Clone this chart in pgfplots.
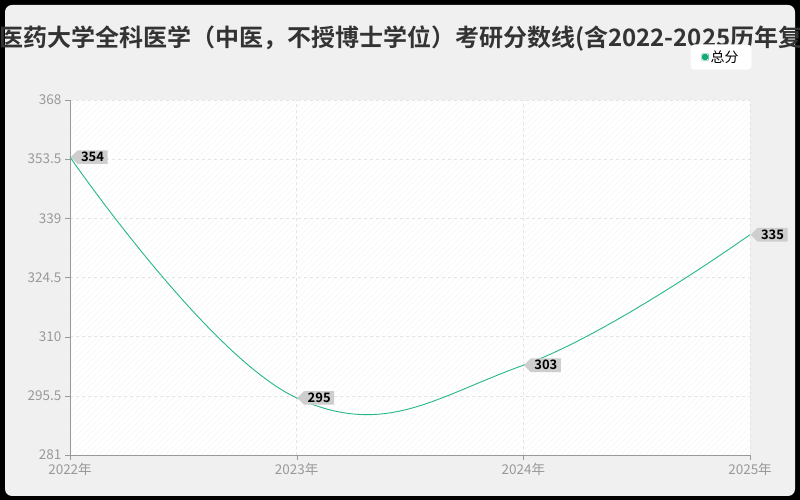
\documentclass[border=0pt]{standalone}
\usepackage{fontspec}
\setmainfont{Noto Sans CJK SC}[BoldFont={* Bold}]
\usepackage{pgfplots}
\pgfplotsset{compat=1.18}
\usetikzlibrary{shapes.symbols,patterns.meta}
\definecolor{lineg}{RGB}{38,184,132}
\definecolor{legg}{RGB}{20,170,120}
\definecolor{bgc}{RGB}{240,240,240}
\definecolor{tickc}{RGB}{153,153,153}
\definecolor{gridc}{RGB}{228,228,228}
\definecolor{titlec}{RGB}{51,51,51}
\definecolor{labelc}{RGB}{206,206,206}
\definecolor{hatchc}{RGB}{243,243,243}

\begin{document}
\begin{tikzpicture}
\useasboundingbox (0pt,0pt) rectangle (800pt,500pt);
\fill[black] (0pt,0pt) rectangle (800pt,500pt);
\fill[bgc, rounded corners=7pt] (5pt,4pt) rectangle (795pt,495pt);
\node[anchor=west, text=titlec, font=\bfseries\fontsize{24}{24}\selectfont, inner sep=0pt]
  at (-1pt,461pt) {医药大学全科医学（中医，不授博士学位）考研分数线(含2022-2025历年复试)};
\begin{axis}[
    at={(70pt,45pt)}, anchor=south west,
    scale only axis,
    width=680pt, height=355pt,
    xmin=0, xmax=3,
    ymin=281, ymax=368,
    xtick={0,1,2,3},
    xticklabels={2022年,2023年,2024年,2025年},
    ytick={281,295.5,310,324.5,339,353.5,368},
    yticklabels={281,295.5,310,324.5,339,353.5,368},
    axis x line*=bottom, axis y line*=left,
    x axis line style={-, draw=tickc},
    y axis line style={-, draw=tickc},
    tick align=outside,
    major tick length=5pt,
    tick style={draw=tickc},
    ticklabel style={text=tickc, font=\fontsize{13.5}{13.5}\selectfont},
    grid=major,
    major grid style={dashed, draw=gridc},
    axis background/.style={fill=white,
      postaction={pattern={Lines[angle=45,distance=4pt,line width=0.6pt]}, pattern color=hatchc}},
    clip=false,
    legend style={at={(0.9575,1.121)}, anchor=center, draw=none, fill=white,
      rounded corners=4pt, font=\fontsize{14}{14}\selectfont, text=black,
      inner xsep=11pt, inner ysep=4pt},
    legend image code/.code={\fill[legg] (2pt,-3pt) rectangle (8pt,3pt);},
]
\addplot[lineg, line width=0.9pt, smooth, tension=0.7, mark=none,
    nodes near coords={\pgfmathprintnumber[assume math mode=true]{\pgfplotspointmeta}},
    every node near coord/.append style={anchor=west, shape=signal, signal to=west,
      fill=labelc, text=black, inner xsep=3.5pt, inner ysep=2pt,
      font=\bfseries\fontsize{13}{13}\selectfont}] coordinates {
    (0,354) (1,295) (2,303) (3,335)
};
\addlegendentry{总分}
\end{axis}
\end{tikzpicture}
\end{document}
